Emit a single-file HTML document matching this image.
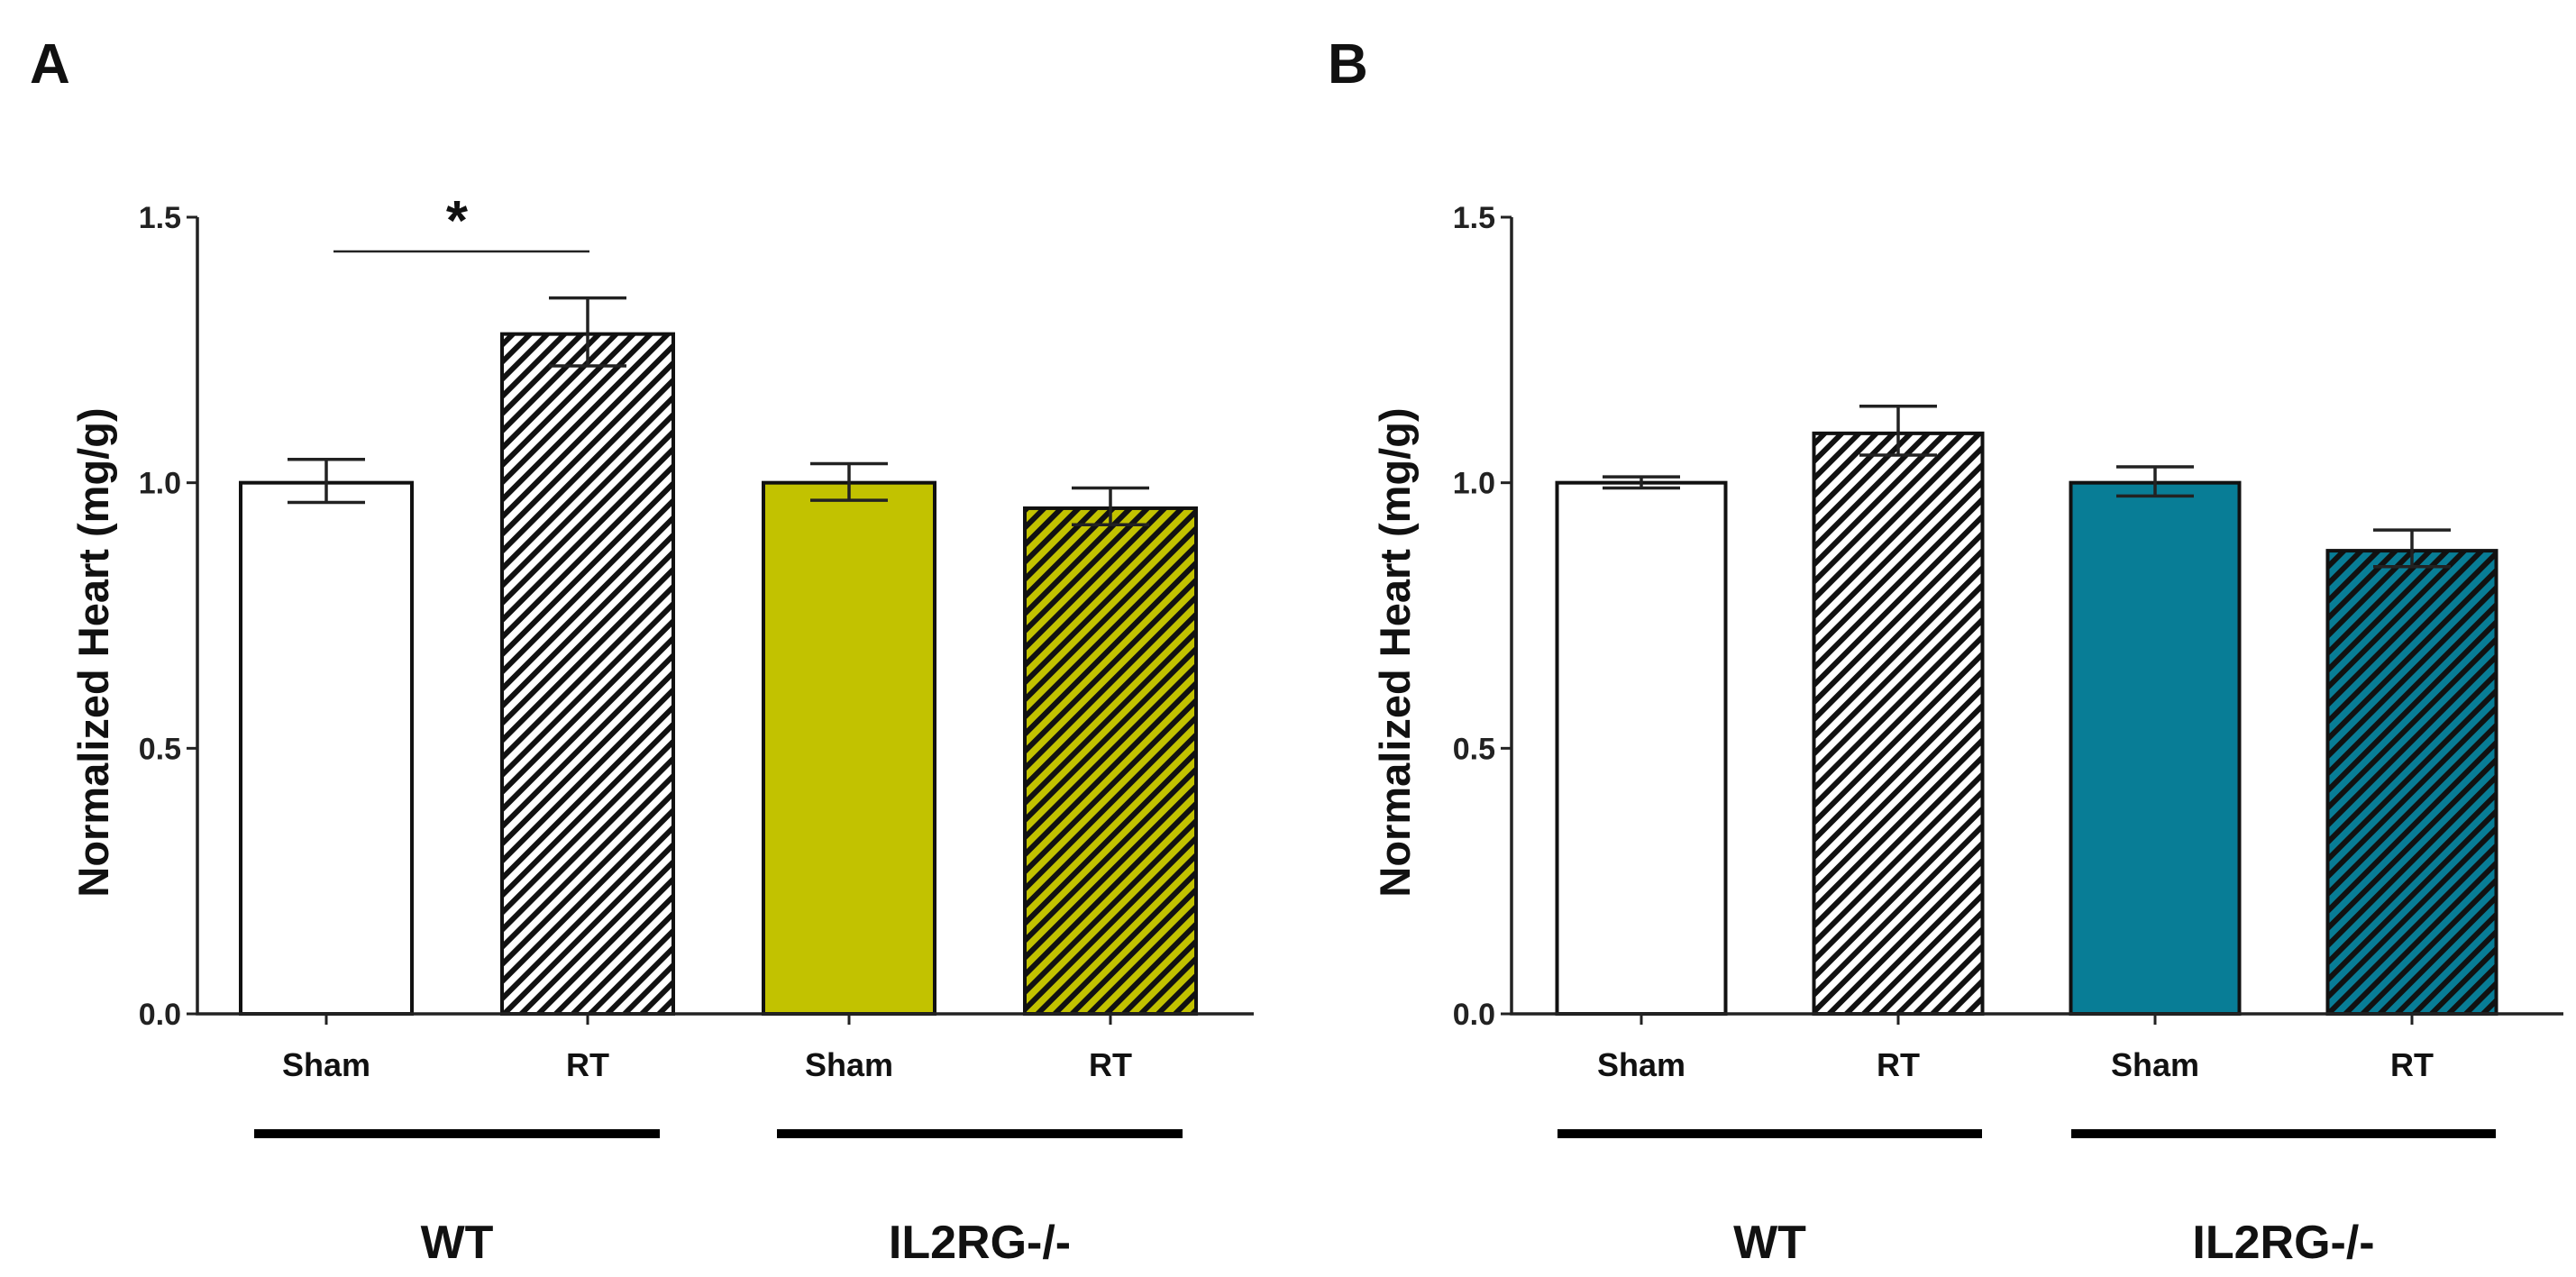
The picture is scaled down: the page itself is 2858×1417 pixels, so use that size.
<!DOCTYPE html>
<html><head><meta charset="utf-8"><style>
html,body{margin:0;padding:0;background:#fff;}
svg{display:block;font-family:"Liberation Sans",Arial,sans-serif;}
</style></head><body>
<svg id="chart" width="2858" height="1417" viewBox="0 0 2858 1417">
<defs>
<pattern id="hw" patternUnits="userSpaceOnUse" width="13.5" height="13.5" patternTransform="rotate(45)">
<rect width="13.5" height="13.5" fill="#fff"/><rect x="0" y="0" width="6" height="13.5" fill="#111"/></pattern>
<pattern id="ho" patternUnits="userSpaceOnUse" width="13.5" height="13.5" patternTransform="rotate(45)">
<rect width="13.5" height="13.5" fill="#c2c200"/><rect x="0" y="0" width="6" height="13.5" fill="#111"/></pattern>
<pattern id="ht" patternUnits="userSpaceOnUse" width="13.5" height="13.5" patternTransform="rotate(45)">
<rect width="13.5" height="13.5" fill="#087d96"/><rect x="0" y="0" width="6" height="13.5" fill="#111"/></pattern>
</defs>
</svg>
<script>
const categories = ["Sham","RT","Sham","RT"];
const groups = ["WT","IL2RG-/-"];
const valuesA = [1.0, 1.28, 1.0, 0.952];
const errHiA = [1.044, 1.348, 1.036, 0.99];
const errLoA = [0.963, 1.22, 0.967, 0.921];
const valuesB = [1.0, 1.093, 1.0, 0.872];
const errHiB = [1.011, 1.144, 1.03, 0.911];
const errLoB = [0.99, 1.052, 0.975, 0.842];
const ticks = [0, 0.5, 1.0, 1.5];
const tickLabels = ["0.0","0.5","1.0","1.5"];

const svg = document.getElementById('chart');
const NS = 'http://www.w3.org/2000/svg';
function mk(tag, attrs, parent){const e=document.createElementNS(NS,tag);for(const k in attrs)e.setAttribute(k,attrs[k]);(parent||svg).appendChild(e);return e;}

function panel(p){
  const g = mk('g',{});
  
  
  const y0=1125, y1=241;
  const yS = v => y0 - (v/1.5)*(y0-y1);
  const xS = i => p.x0 + i*p.step;
  const L = mk('text',{x:p.lx,y:92,'font-size':62,'font-weight':'bold',fill:'#111'},g); L.textContent=p.letter;
  
  
  p.vals.forEach((v,i)=>{
    const bw=p.bw, x=xS(i)-bw/2;
    const r=mk('rect',{x:x,y:yS(v),width:bw,height:y0-yS(v),fill:p.fills[i],stroke:'#111','stroke-width':4},g);
    
    
    const e=mk('g',{stroke:'#222','stroke-width':3.5},g);
    
    
    mk('line',{x1:xS(i),x2:xS(i),y1:yS(p.hi[i]),y2:yS(p.lo[i])},e);
    mk('line',{x1:xS(i)-43,x2:xS(i)+43,y1:yS(p.hi[i]),y2:yS(p.hi[i])},e);
    mk('line',{x1:xS(i)-43,x2:xS(i)+43,y1:yS(p.lo[i]),y2:yS(p.lo[i])},e);
    mk('line',{x1:xS(i),x2:xS(i),y1:y0,y2:y0+12,stroke:'#222','stroke-width':3},g);
    const t=mk('text',{x:xS(i),y:1194,'text-anchor':'middle','font-size':36,'font-weight':'bold',fill:'#111'},g);
    t.textContent=categories[i];
    
    
  });
  const ax=mk('path',{d:`M${p.ax} ${y1} V${y0} H${p.axr}`,fill:'none',stroke:'#222','stroke-width':3.5},g);
  
  
  ticks.forEach((v,i)=>{
    mk('line',{x1:p.ax-12,x2:p.ax,y1:yS(v),y2:yS(v),stroke:'#222','stroke-width':3},g);
    const t=mk('text',{x:p.ax-18,y:yS(v)+12,'text-anchor':'end','font-size':34,'font-weight':'bold',fill:'#222'},g);
    t.textContent=tickLabels[i];
    
    
  });
  const yt=mk('text',{x:0,y:0,transform:`translate(${p.ytx},724) rotate(-90)`,'text-anchor':'middle','font-size':47,'font-weight':'bold',fill:'#111'},g);
  yt.textContent='Normalized Heart (mg/g)';
  
  
  [0,1].forEach(k=>{
    const a=xS(2*k)-p.gpad, b=xS(2*k+1)+p.gpad;
    const l=mk('rect',{x:a,y:1253,width:b-a,height:10,fill:'#000'},g);
    
    
    const t=mk('text',{x:(a+b)/2,y:1396,'text-anchor':'middle','font-size':52,'font-weight':'bold',fill:'#111'},g);
    t.textContent=groups[k];
    
    
  });
  if(p.sig){
    const s=mk('line',{x1:xS(0)+8,x2:xS(1)+2,y1:279,y2:279,stroke:'#222','stroke-width':2.5},g);
    
    
    const st=mk('text',{x:(xS(0)+xS(1))/2,y:266,'text-anchor':'middle','font-size':62,'font-weight':'bold',fill:'#111'},g);
    st.textContent='*';
    
    
  }
}
panel({letter:'A',lx:33,x0:362,step:290,bw:190,ax:219,axr:1391,ytx:120,gpad:80,sig:true,
  vals:valuesA,hi:errHiA,lo:errLoA,fills:['#fff','url(#hw)','#c2c200','url(#ho)']});
panel({letter:'B',lx:1473,x0:1821,step:285,bw:187,ax:1677,axr:2844,ytx:1564,gpad:93,sig:false,
  vals:valuesB,hi:errHiB,lo:errLoB,fills:['#fff','url(#hw)','#087d96','url(#ht)']});
</script>
</body></html>
